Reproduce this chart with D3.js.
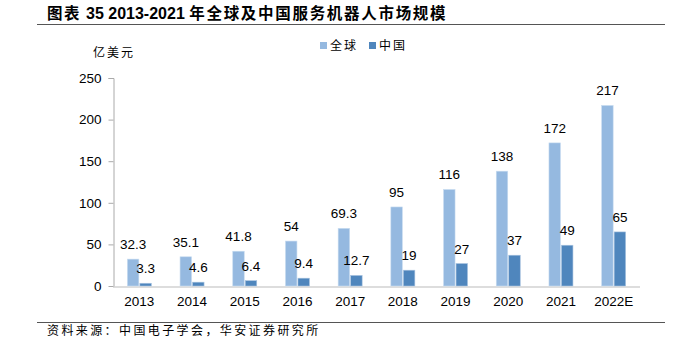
<!DOCTYPE html>
<html><head><meta charset="utf-8">
<script src="https://cdn.jsdelivr.net/npm/d3@7"></script>
<style>
body{margin:0;background:#fff;}
svg{display:block;}
</style></head>
<body>
<svg id="c" width="673" height="338"></svg>
<script>
const categories = ["2013","2014","2015","2016","2017","2018","2019","2020","2021","2022E"];
const globalVals = [32.3,35.1,41.8,54,69.3,95,116,138,172,217];
const chinaVals = [3.3,4.6,6.4,9.4,12.7,19,27,37,49,65];
const globalLabels = ["32.3","35.1","41.8","54","69.3","95","116","138","172","217"];
const chinaLabels = ["3.3","4.6","6.4","9.4","12.7","19","27","37","49","65"];
const yTicks = [0,50,100,150,200,250];
const seriesNames = ["全球","中国"];
const colors = ["#95b9e0","#4f86bd"];

const svg = d3.select("#c");
const numFont = "'Liberation Sans', Arial, sans-serif";
const cjkFont = "'Noto Sans CJK SC', sans-serif";

// title
const title = svg.append("text").attr("x",47).attr("y",19).attr("font-size",15.5).attr("font-weight","bold").attr("fill","#000");
title.append("tspan").attr("font-family",cjkFont).attr("letter-spacing",1.5).text("图表 ");
title.append("tspan").attr("font-family",numFont).attr("font-size",16).text("35 2013-2021 ");
title.append("tspan").attr("font-family",cjkFont).attr("letter-spacing",1.7).text("年全球及中国服务机器人市场规模");
svg.append("line").attr("x1",37).attr("x2",665).attr("y1",24.5).attr("y2",24.5).attr("stroke","#555").attr("stroke-width",1.2);

// footer
svg.append("line").attr("x1",37).attr("x2",665).attr("y1",322.5).attr("y2",322.5).attr("stroke","#555").attr("stroke-width",1);
svg.append("text").attr("x",47).attr("y",335).attr("font-family",cjkFont).attr("font-size",12).attr("letter-spacing",2.4).attr("fill","#000").text("资料来源：中国电子学会，华安证券研究所");

const x0 = d3.scaleBand().domain(categories).range([113,640]).paddingInner(0).paddingOuter(0);
const y = d3.scaleLinear().domain([0,250]).range([286,78]);
const bw = 11.5;

// y axis
const yAxis = d3.axisLeft(y).tickValues(yTicks).tickSize(5).tickPadding(7).tickFormat(d3.format("d"));
const ga = svg.append("g").attr("transform","translate(113.5,0)").call(yAxis);
ga.selectAll("text").attr("font-family",numFont).attr("font-size",13.5).attr("fill","#000");
ga.selectAll("line,path").attr("stroke","#aaa");
ga.select("path").attr("d","M-5,78.5H0.5V286.5");

// x axis
const xAxis = d3.axisBottom(x0).tickSize(0).tickPadding(10);
const gx = svg.append("g").attr("transform","translate(0,286.5)").call(xAxis);
gx.selectAll("text").attr("font-family",numFont).attr("font-size",13.5).attr("fill","#000");
gx.select("path").attr("stroke","#bbb").attr("d","M113,0.5H640");

// bars
const g = svg.append("g");
categories.forEach((c,i)=>{
  const cx = x0(c)+x0.bandwidth()/2;
  const gx1 = cx - bw - 0.5, gx2 = cx + 0.5;
  g.append("rect").attr("x",gx1).attr("y",y(globalVals[i])).attr("width",bw).attr("height",y(0)-y(globalVals[i])).attr("fill",colors[0]).attr("stroke","#c8dcf0").attr("stroke-width",0.6);
  g.append("rect").attr("x",gx2).attr("y",y(chinaVals[i])).attr("width",bw).attr("height",y(0)-y(chinaVals[i])).attr("fill",colors[1]).attr("stroke","#a9c4e0").attr("stroke-width",0.6);
  g.append("text").attr("x",gx1+bw/2).attr("y",y(globalVals[i])-10).attr("text-anchor","middle").attr("font-family",numFont).attr("font-size",13.5).text(globalLabels[i]);
  g.append("text").attr("x",gx2+bw/2).attr("y",y(chinaVals[i])-10).attr("text-anchor","middle").attr("font-family",numFont).attr("font-size",13.5).text(chinaLabels[i]);
});

// unit label
svg.append("text").attr("x",93).attr("y",57).attr("font-family",cjkFont).attr("font-size",12).attr("letter-spacing",2).text("亿美元");

// legend
const lx = [320,369];
seriesNames.forEach((n,i)=>{
  svg.append("rect").attr("x",lx[i]).attr("y",42).attr("width",7).attr("height",7).attr("fill",colors[i]);
  svg.append("text").attr("x",lx[i]+10).attr("y",50).attr("font-family",cjkFont).attr("font-size",12).attr("letter-spacing",2).text(n);
});
</script>
</body></html>
